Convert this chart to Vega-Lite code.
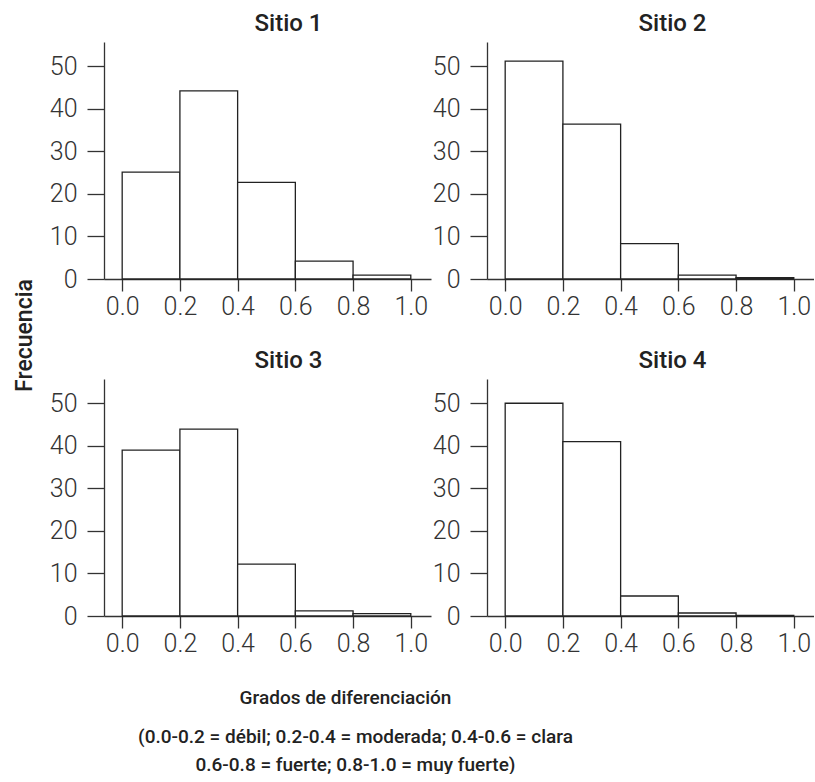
{
  "$schema": "https://vega.github.io/schema/vega-lite/v6.json",
  "padding": {"left": 13, "top": 12, "right": 0, "bottom": 0},
  "background": "white",
  "data": {"values": [
    {"sitio": "Sitio 1", "lo": 0.0, "hi": 0.2, "n": 25.1},
    {"sitio": "Sitio 1", "lo": 0.2, "hi": 0.4, "n": 44.2},
    {"sitio": "Sitio 1", "lo": 0.4, "hi": 0.6, "n": 22.7},
    {"sitio": "Sitio 1", "lo": 0.6, "hi": 0.8, "n": 4.2},
    {"sitio": "Sitio 1", "lo": 0.8, "hi": 1.0, "n": 0.9},
    {"sitio": "Sitio 2", "lo": 0.0, "hi": 0.2, "n": 51.2},
    {"sitio": "Sitio 2", "lo": 0.2, "hi": 0.4, "n": 36.4},
    {"sitio": "Sitio 2", "lo": 0.4, "hi": 0.6, "n": 8.3},
    {"sitio": "Sitio 2", "lo": 0.6, "hi": 0.8, "n": 0.9},
    {"sitio": "Sitio 2", "lo": 0.8, "hi": 1.0, "n": 0.3},
    {"sitio": "Sitio 3", "lo": 0.0, "hi": 0.2, "n": 39.0},
    {"sitio": "Sitio 3", "lo": 0.2, "hi": 0.4, "n": 43.9},
    {"sitio": "Sitio 3", "lo": 0.4, "hi": 0.6, "n": 12.2},
    {"sitio": "Sitio 3", "lo": 0.6, "hi": 0.8, "n": 1.2},
    {"sitio": "Sitio 3", "lo": 0.8, "hi": 1.0, "n": 0.55},
    {"sitio": "Sitio 4", "lo": 0.0, "hi": 0.2, "n": 50.0},
    {"sitio": "Sitio 4", "lo": 0.2, "hi": 0.4, "n": 41.0},
    {"sitio": "Sitio 4", "lo": 0.4, "hi": 0.6, "n": 4.7},
    {"sitio": "Sitio 4", "lo": 0.6, "hi": 0.8, "n": 0.7},
    {"sitio": "Sitio 4", "lo": 0.8, "hi": 1.0, "n": 0.15}
  ]},
  "columns": 2,
  "bounds": "flush",
  "spacing": {"row": 100, "column": 56},
  "concat": [
    {
      "width": 327, "height": 237,
      "title": {"text": "Sitio 1", "dx": 21},
      "transform": [{"filter": "datum.sitio == 'Sitio 1'"}],
      "mark": {"type": "rect", "fill": "white", "stroke": "#222", "strokeWidth": 1.3},
      "encoding": {
        "x": {"field": "lo", "type": "quantitative", "scale": {"domain": [-0.063, 1.07], "nice": false, "zero": false}, "axis": {"title": null, "values": [0, 0.2, 0.4, 0.6, 0.8, 1.0], "format": ".1f"}},
        "x2": {"field": "hi"},
        "y": {"field": "n", "type": "quantitative", "scale": {"domain": [0, 55.7], "nice": false}, "axis": {"values": [0, 10, 20, 30, 40, 50], "title": "Frecuencia", "titleX": -73, "titleY": 293, "titleAngle": -90, "titleAlign": "center", "titleBaseline": "alphabetic", "titleFontSize": 23}},
        "y2": {"datum": 0}
      }
    },
    {
      "width": 327, "height": 237,
      "title": {"text": "Sitio 2", "dx": 22},
      "transform": [{"filter": "datum.sitio == 'Sitio 2'"}],
      "mark": {"type": "rect", "fill": "white", "stroke": "#222", "strokeWidth": 1.3},
      "encoding": {
        "x": {"field": "lo", "type": "quantitative", "scale": {"domain": [-0.063, 1.07], "nice": false, "zero": false}, "axis": {"title": null, "values": [0, 0.2, 0.4, 0.6, 0.8, 1.0], "format": ".1f"}},
        "x2": {"field": "hi"},
        "y": {"field": "n", "type": "quantitative", "scale": {"domain": [0, 55.7], "nice": false}, "axis": {"values": [0, 10, 20, 30, 40, 50], "title": null}},
        "y2": {"datum": 0}
      }
    },
    {
      "width": 327, "height": 237,
      "title": {"text": "Sitio 3", "dx": 21},
      "transform": [{"filter": "datum.sitio == 'Sitio 3'"}],
      "mark": {"type": "rect", "fill": "white", "stroke": "#222", "strokeWidth": 1.3},
      "encoding": {
        "x": {"field": "lo", "type": "quantitative", "scale": {"domain": [-0.063, 1.07], "nice": false, "zero": false}, "axis": {"values": [0, 0.2, 0.4, 0.6, 0.8, 1.0], "format": ".1f", "title": "Grados de diferenciación", "titleX": 241, "titleY": 87, "titleAlign": "center", "titleBaseline": "alphabetic", "titleFontSize": 19}},
        "x2": {"field": "hi"},
        "y": {"field": "n", "type": "quantitative", "scale": {"domain": [0, 55.7], "nice": false}, "axis": {"values": [0, 10, 20, 30, 40, 50], "title": null}},
        "y2": {"datum": 0}
      }
    },
    {
      "width": 327, "height": 237,
      "title": {"text": "Sitio 4", "dx": 22},
      "transform": [{"filter": "datum.sitio == 'Sitio 4'"}],
      "mark": {"type": "rect", "fill": "white", "stroke": "#222", "strokeWidth": 1.3},
      "encoding": {
        "x": {"field": "lo", "type": "quantitative", "scale": {"domain": [-0.063, 1.07], "nice": false, "zero": false}, "axis": {"values": [0, 0.2, 0.4, 0.6, 0.8, 1.0], "format": ".1f", "title": ["(0.0-0.2 = débil; 0.2-0.4 = moderada; 0.4-0.6 = clara", "0.6-0.8 = fuerte; 0.8-1.0 = muy fuerte)"], "titleX": -132, "titleY": 126, "titleAlign": "center", "titleBaseline": "alphabetic", "titleFontSize": 19, "titleLineHeight": 28}},
        "x2": {"field": "hi"},
        "y": {"field": "n", "type": "quantitative", "scale": {"domain": [0, 55.7], "nice": false}, "axis": {"values": [0, 10, 20, 30, 40, 50], "title": null}},
        "y2": {"datum": 0}
      }
    }
  ],
  "config": {
    "view": {"stroke": null},
    "title": {"font": "Roboto", "fontSize": 24, "fontWeight": 500, "color": "#222", "anchor": "middle", "offset": 6},
    "axis": {"grid": false, "domainColor": "#333", "domainWidth": 1.3, "tickColor": "#333", "tickWidth": 1.3, "labelFont": "Roboto", "labelFontWeight": 300, "labelFontSize": 25, "labelColor": "#333", "labelFlush": false, "labelOverlap": false, "titleFont": "Roboto", "titleFontWeight": 500, "titleColor": "#222"},
    "axisX": {"tickSize": 12, "labelPadding": 3},
    "axisY": {"tickSize": 17, "labelPadding": 10}
  }
}
